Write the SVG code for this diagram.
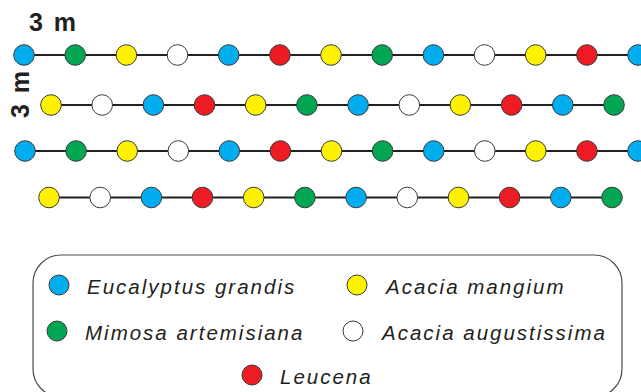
<svg xmlns="http://www.w3.org/2000/svg" width="641" height="392" viewBox="0 0 641 392">
  <style>
    .line { stroke: #231f20; stroke-width: 2; fill: none; }
    .tree { stroke: #3a3a3a; stroke-width: 1; }
    .eg { fill: #00aeef; }
    .ma { fill: #00a651; }
    .am { fill: #fff200; }
    .aa { fill: #ffffff; }
    .le { fill: #ed1c24; }
    .dim { font-family: "Liberation Sans", Arial, sans-serif; font-weight: bold; font-size: 25px; letter-spacing: 2px; fill: #231f20; }
    .lab { font-family: "Liberation Sans", Arial, sans-serif; font-style: italic; font-size: 20.5px; letter-spacing: 2px; fill: #231f20; }
    .box { fill: #ffffff; stroke: #4a4a4a; stroke-width: 1.2; }
  </style>
  <defs>
    <circle id="t" r="10.3"/>
  </defs>

  <rect width="641" height="392" fill="#ffffff"/>

  <!-- spacing labels -->
  <g id="spacing">
    <text class="dim" x="29" y="31">3 m</text>
    <text class="dim" transform="translate(29,118) rotate(-90)" x="0" y="0">3 m</text>
  </g>

  <!-- planting rows -->
  <g id="connectors">
    <line class="line" x1="24" y1="55" x2="641" y2="55"/>
    <line class="line" x1="51" y1="105" x2="614" y2="105"/>
    <line class="line" x1="25" y1="151" x2="641" y2="151"/>
    <line class="line" x1="49" y1="197.5" x2="612" y2="197.5"/>
  </g>

  <g id="row1" class="tree">
    <use href="#t" class="eg" x="24" y="55"/>
    <use href="#t" class="ma" x="75.2" y="55"/>
    <use href="#t" class="am" x="126.4" y="55"/>
    <use href="#t" class="aa" x="177.5" y="55"/>
    <use href="#t" class="eg" x="228.7" y="55"/>
    <use href="#t" class="le" x="279.9" y="55"/>
    <use href="#t" class="am" x="331" y="55"/>
    <use href="#t" class="ma" x="382.2" y="55"/>
    <use href="#t" class="eg" x="433.4" y="55"/>
    <use href="#t" class="aa" x="484.5" y="55"/>
    <use href="#t" class="am" x="535.7" y="55"/>
    <use href="#t" class="le" x="586.9" y="55"/>
    <use href="#t" class="eg" x="638" y="55"/>
  </g>

  <g id="row2" class="tree">
    <use href="#t" class="am" x="51" y="105"/>
    <use href="#t" class="aa" x="102.2" y="105"/>
    <use href="#t" class="eg" x="153.4" y="105"/>
    <use href="#t" class="le" x="204.5" y="105"/>
    <use href="#t" class="am" x="255.7" y="105"/>
    <use href="#t" class="ma" x="306.9" y="105"/>
    <use href="#t" class="eg" x="358.1" y="105"/>
    <use href="#t" class="aa" x="409.3" y="105"/>
    <use href="#t" class="am" x="460.4" y="105"/>
    <use href="#t" class="le" x="511.6" y="105"/>
    <use href="#t" class="eg" x="562.8" y="105"/>
    <use href="#t" class="ma" x="614" y="105"/>
  </g>

  <g id="row3" class="tree">
    <use href="#t" class="eg" x="25" y="151"/>
    <use href="#t" class="ma" x="76.1" y="151"/>
    <use href="#t" class="am" x="127.2" y="151"/>
    <use href="#t" class="aa" x="178.3" y="151"/>
    <use href="#t" class="eg" x="229.3" y="151"/>
    <use href="#t" class="le" x="280.4" y="151"/>
    <use href="#t" class="am" x="331.5" y="151"/>
    <use href="#t" class="ma" x="382.6" y="151"/>
    <use href="#t" class="eg" x="433.7" y="151"/>
    <use href="#t" class="aa" x="484.8" y="151"/>
    <use href="#t" class="am" x="535.8" y="151"/>
    <use href="#t" class="le" x="586.9" y="151"/>
    <use href="#t" class="eg" x="638" y="151"/>
  </g>

  <g id="row4" class="tree">
    <use href="#t" class="am" x="49" y="197.5"/>
    <use href="#t" class="aa" x="100.2" y="197.5"/>
    <use href="#t" class="eg" x="151.4" y="197.5"/>
    <use href="#t" class="le" x="202.5" y="197.5"/>
    <use href="#t" class="am" x="253.7" y="197.5"/>
    <use href="#t" class="ma" x="304.9" y="197.5"/>
    <use href="#t" class="eg" x="356.1" y="197.5"/>
    <use href="#t" class="aa" x="407.3" y="197.5"/>
    <use href="#t" class="am" x="458.5" y="197.5"/>
    <use href="#t" class="le" x="509.6" y="197.5"/>
    <use href="#t" class="eg" x="560.8" y="197.5"/>
    <use href="#t" class="ma" x="612" y="197.5"/>
  </g>

  <!-- species key -->
  <g id="legend">
    <rect class="box" x="33" y="255" width="589" height="142" rx="28" ry="28"/>
    <g class="tree">
      <circle class="eg" cx="59" cy="285" r="10"/>
      <circle class="am" cx="357" cy="285" r="10"/>
      <circle class="ma" cx="57" cy="331" r="10"/>
      <circle class="aa" cx="353" cy="331" r="10"/>
      <circle class="le" cx="252" cy="375" r="10"/>
    </g>
    <text class="lab" x="87" y="294">Eucalyptus grandis</text>
    <text class="lab" x="386" y="294">Acacia mangium</text>
    <text class="lab" x="85" y="340">Mimosa artemisiana</text>
    <text class="lab" x="382" y="340">Acacia augustissima</text>
    <text class="lab" x="280" y="384">Leucena</text>
  </g>
</svg>
